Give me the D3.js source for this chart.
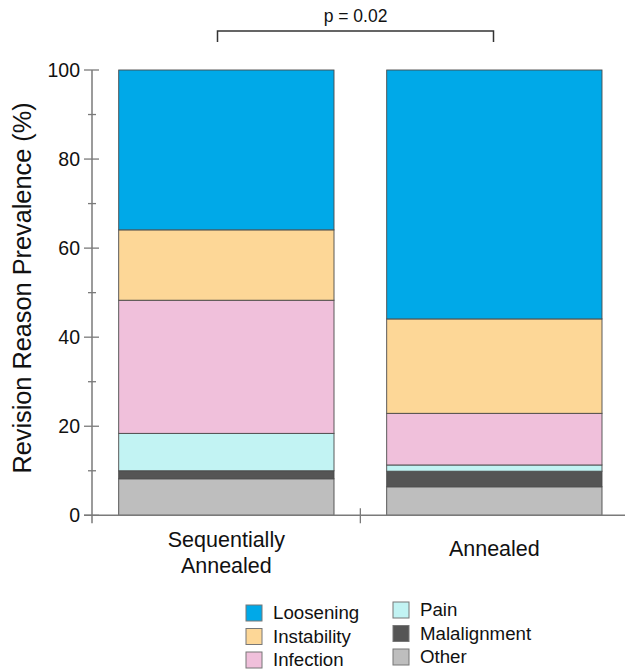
<!DOCTYPE html>
<html>
<head>
<meta charset="utf-8">
<script src="https://cdn.jsdelivr.net/npm/d3@7"></script>
<style>
  html, body { margin: 0; padding: 0; background: #fff; }
  svg { display: block; font-family: "Liberation Sans", Arial, sans-serif; }
</style>
</head>
<body>
<svg id="chart" width="625" height="671"></svg>
<script>
// Revision reasons, stacked bottom-to-top
const categories = ["Sequentially Annealed", "Annealed"];
const reasons = ["Other", "Malalignment", "Pain", "Infection", "Instability", "Loosening"];
const other        = [8.2, 6.4];
const malalignment = [1.8, 3.5];
const pain         = [8.4, 1.4];
const infection    = [29.9, 11.6];
const instability  = [15.8, 21.2];
const loosening    = [35.9, 55.9];
const yTicks = [0, 20, 40, 60, 80, 100];
const pValueLabel = "p = 0.02";
const legendOrder = ["Loosening", "Instability", "Infection", "Pain", "Malalignment", "Other"];

const colors = {
  Loosening: "#00A9E8",
  Instability: "#FDD797",
  Infection: "#F0C0DB",
  Pain: "#C2F3F3",
  Malalignment: "#555555",
  Other: "#BEBEBE"
};

const seriesValues = { Other: other, Malalignment: malalignment, Pain: pain,
  Infection: infection, Instability: instability, Loosening: loosening };

const rows = categories.map((c, i) => {
  const r = { category: c };
  reasons.forEach(k => r[k] = seriesValues[k][i]);
  return r;
});

const svg = d3.select("#chart");

const y = d3.scaleLinear().domain([0, 100]).range([515.3, 70]);
const x = d3.scaleBand().domain(categories).range([118.7, 602]).paddingInner(0.1966).paddingOuter(0);

const stack = d3.stack().keys(reasons)(rows);

const axisColor = "#7a7a7a";

// stacked bars
svg.append("g").selectAll("g").data(stack).join("g")
  .attr("fill", d => colors[d.key])
  .selectAll("rect").data(d => d).join("rect")
  .attr("x", d => x(d.data.category))
  .attr("width", x.bandwidth())
  .attr("y", d => y(d[1]))
  .attr("height", d => y(d[0]) - y(d[1]))
  .attr("stroke", "#4a4a4a")
  .attr("stroke-width", 0.9);

// y axis
const yAxisG = svg.append("g").attr("transform", "translate(92,0)");
yAxisG.append("line").attr("x1", 0).attr("x2", 0).attr("y1", y(100)).attr("y2", y(0) + 8)
  .attr("stroke", axisColor).attr("stroke-width", 1.5);
const minor = d3.range(10, 100, 20);
yAxisG.selectAll(".major").data(yTicks).join("line").attr("class", "major")
  .attr("x1", -8).attr("x2", 7).attr("y1", d => y(d)).attr("y2", d => y(d))
  .attr("stroke", axisColor).attr("stroke-width", 1.3);
yAxisG.selectAll(".minor").data(minor).join("line").attr("class", "minor")
  .attr("x1", -4).attr("x2", 4).attr("y1", d => y(d)).attr("y2", d => y(d))
  .attr("stroke", axisColor).attr("stroke-width", 1.3);
yAxisG.selectAll("text").data(yTicks).join("text")
  .attr("x", -12).attr("y", d => y(d)).attr("dy", "0.36em")
  .attr("text-anchor", "end").attr("font-size", 19.5).attr("fill", "#111")
  .text(d => d);

// x axis
svg.append("line").attr("x1", 84).attr("x2", 625).attr("y1", y(0)).attr("y2", y(0))
  .attr("stroke", axisColor).attr("stroke-width", 1.5);
const midX = (x(categories[0]) + x.bandwidth() + x(categories[1])) / 2;
svg.append("line").attr("x1", midX).attr("x2", midX).attr("y1", y(0) - 7).attr("y2", y(0) + 8)
  .attr("stroke", axisColor).attr("stroke-width", 1.3);

// category labels
const catLines = { "Sequentially Annealed": ["Sequentially", "Annealed"], "Annealed": ["Annealed"] };
categories.forEach(c => {
  const lines = catLines[c];
  const cx = x(c) + x.bandwidth() / 2;
  const y0 = lines.length === 1 ? 556 : 547;
  lines.forEach((t, i) => {
    svg.append("text").attr("x", cx).attr("y", y0 + i * 26)
      .attr("text-anchor", "middle").attr("font-size", 21.5).attr("fill", "#111").text(t);
  });
});

// y axis title
svg.append("text")
  .attr("transform", "translate(31,288) rotate(-90)")
  .attr("text-anchor", "middle").attr("font-size", 25.3).attr("fill", "#111")
  .text("Revision Reason Prevalence (%)");

// significance bracket
const bx1 = 217.5, bx2 = 493.5;
svg.append("path")
  .attr("d", `M${bx1},42V31H${bx2}V42`)
  .attr("fill", "none").attr("stroke", "#333").attr("stroke-width", 1.5);
svg.append("text").attr("x", (bx1 + bx2) / 2).attr("y", 22)
  .attr("text-anchor", "middle").attr("font-size", 17.5).attr("fill", "#111").text(pValueLabel);

// legend
const legend = svg.append("g");
legendOrder.forEach((k, i) => {
  const col = Math.floor(i / 3), row = i % 3;
  const lx = col === 0 ? 246 : 393;
  const ly = (col === 0 ? 605 : 602) + row * 23.5;
  legend.append("rect").attr("x", lx).attr("y", ly).attr("width", 16).attr("height", 16)
    .attr("fill", colors[k]).attr("stroke", "#777").attr("stroke-width", 1);
  legend.append("text").attr("x", lx + 27).attr("y", ly + 14)
    .attr("font-size", 18.7).attr("fill", "#111").text(k);
});
</script>
</body>
</html>
